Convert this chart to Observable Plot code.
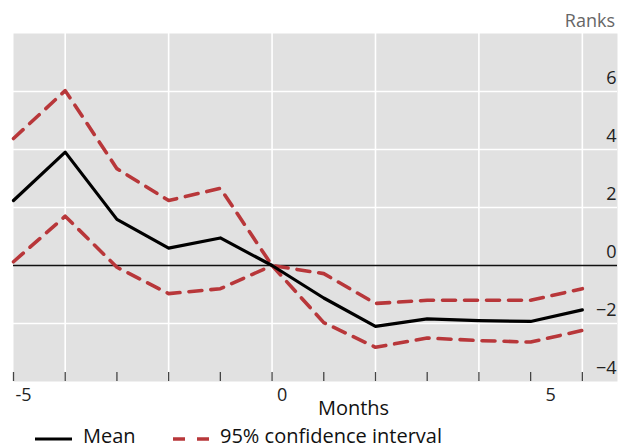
<!DOCTYPE html>
<html>
<head>
<meta charset="utf-8">
<script src="https://cdn.jsdelivr.net/npm/d3@7"></script>
<script src="https://cdn.jsdelivr.net/npm/@observablehq/plot@0.6"></script>
<style>
  html, body { margin: 0; padding: 0; background: #fff; }
  body { width: 625px; height: 448px; overflow: hidden; font-family: "Open Sans", sans-serif; }
  #top { position: relative; height: 33px; }
  #top span { position: absolute; right: 10px; top: 9px; font-size: 18px; line-height: 22px; color: #666; }
  #legend { position: relative; height: 28px; font-size: 20px; color: #111; }
  #legend svg { position: absolute; left: 0; top: 0; }
  #legend .t { position: absolute; top: 3px; line-height: 26px; white-space: nowrap; }
</style>
</head>
<body>
<div id="top"><span>Ranks</span></div>
<div id="chart"></div>
<div id="legend">
  <svg width="625" height="28">
    <line x1="35" x2="72" y1="19" y2="19" stroke="#000" stroke-width="3.2"/>
    <line x1="173" x2="209" y1="19" y2="19" stroke="#b8373a" stroke-width="3.6" stroke-dasharray="12,12"/>
  </svg>
  <span class="t" style="left:83px">Mean</span>
  <span class="t" style="left:220px">95% confidence interval</span>
</div>
<script>
const months = [-5, -4, -3, -2, -1, 0, 1, 2, 3, 4, 5, 6];
const meanRank = [2.24, 3.91, 1.59, 0.6, 0.95, 0, -1.12, -2.1, -1.84, -1.9, -1.93, -1.53];
const upperCI = [4.38, 6.03, 3.34, 2.24, 2.66, 0, -0.28, -1.31, -1.2, -1.2, -1.2, -0.8];
const lowerCI = [0.13, 1.7, -0.06, -0.97, -0.8, 0, -1.97, -2.82, -2.5, -2.59, -2.64, -2.24];
const xLabelsLeft = [-5, 0];
const xLabelsRight = [5];
const xGrid = [-4, -2, 0, 2, 4, 6];
const yGrid = [-2, 2, 4, 6];
const yLabels = [6, 4, 2, 0, -2, -4];

const rows = months.map((m, i) => ({m, mean: meanRank[i], upper: upperCI[i], lower: lowerCI[i]}));
const red = "#b8373a";
const fmtX = d => d < 0 ? "-" + Math.abs(d) : String(d);

const chart = Plot.plot({
  width: 625,
  height: 387,
  marginTop: 0,
  marginBottom: 39,
  marginLeft: 13,
  marginRight: 8,
  style: {fontFamily: "Open Sans, sans-serif", fontSize: "18px", background: "transparent", color: "#222"},
  x: {domain: [-5, 6.68], axis: null},
  y: {domain: [-4, 8], axis: null},
  marks: [
    Plot.frame({fill: "#e1e1e1", stroke: "none"}),
    Plot.gridX(xGrid, {stroke: "white", strokeOpacity: 1, strokeWidth: 1.6}),
    Plot.gridY(yGrid, {stroke: "white", strokeOpacity: 1, strokeWidth: 1.6}),
    Plot.ruleY([0], {stroke: "#111", strokeWidth: 1.3}),
    Plot.tickX(months, {x: d => d, insetTop: 339, stroke: "#444", strokeWidth: 1.3}),
    Plot.line(rows, {x: "m", y: "upper", stroke: red, strokeWidth: 3.6, strokeDasharray: "13,9"}),
    Plot.line(rows, {x: "m", y: "lower", stroke: red, strokeWidth: 3.6, strokeDasharray: "13,9"}),
    Plot.line(rows, {x: "m", y: "mean", stroke: "#000", strokeWidth: 3.2}),
    Plot.text(yLabels, {y: d => d, text: d => d < 0 ? "\u2212" + Math.abs(d) : String(d), frameAnchor: "right", textAnchor: "end", dx: -1, dy: -13, fill: "#222"}),
    Plot.text(xLabelsLeft, {x: d => d, text: fmtX, frameAnchor: "bottom", dy: 19, dx: 10, fill: "#222"}),
    Plot.text(xLabelsRight, {x: d => d, text: fmtX, frameAnchor: "bottom", dy: 19, dx: 20, fill: "#222"}),
    Plot.text(["Months"], {frameAnchor: "bottom", dx: 38, dy: 33, fontSize: 20, fill: "#111"})
  ]
});
document.getElementById("chart").appendChild(chart);
</script>
</body>
</html>
